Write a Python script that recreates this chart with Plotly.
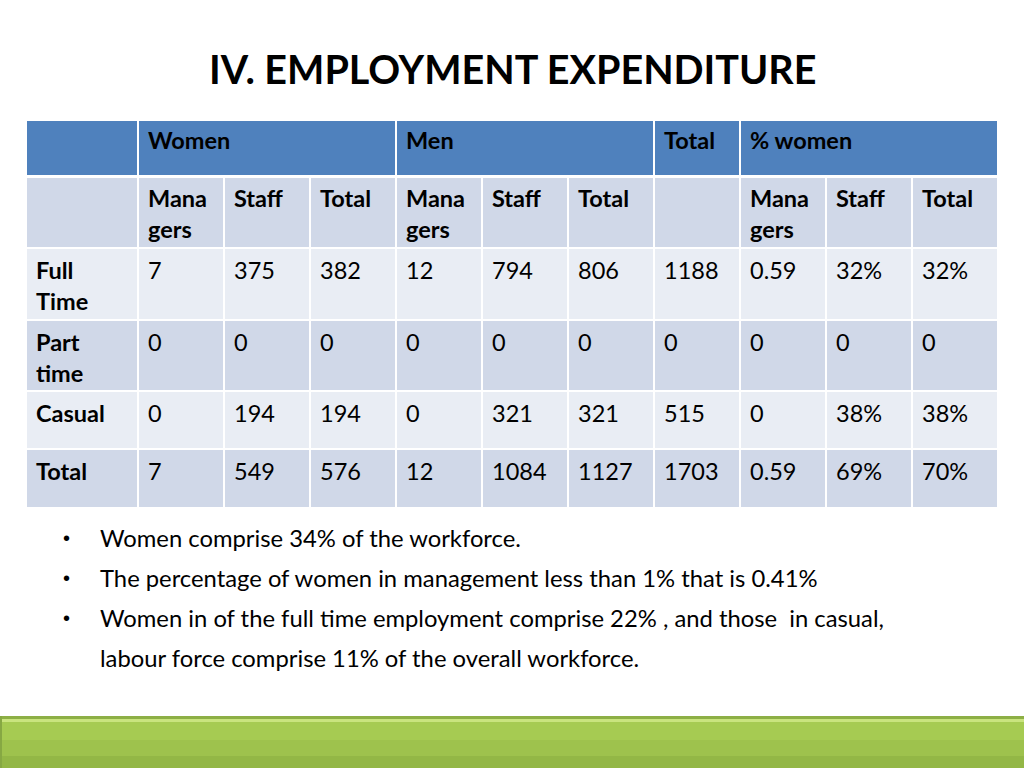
import plotly.graph_objects as go

# contenu du tableau
groupes = ["Women", "Men", "Total", "% women"]
groupe_span = [3, 3, 1, 3]
sous_colonnes = ["Mana<br>gers", "Staff", "Total", "Mana<br>gers", "Staff", "Total", "",
                 "Mana<br>gers", "Staff", "Total"]
lignes = ["Full<br>Time", "Part<br>time", "Casual", "Total"]
full_time = ["7", "375", "382", "12", "794", "806", "1188", "0.59", "32%", "32%"]
part_time = ["0", "0", "0", "0", "0", "0", "0", "0", "0", "0"]
casual = ["0", "194", "194", "0", "321", "321", "515", "0", "38%", "38%"]
total = ["7", "549", "576", "12", "1084", "1127", "1703", "0.59", "69%", "70%"]
valeurs = [full_time, part_time, casual, total]

titre = "IV. EMPLOYMENT EXPENDITURE"
puces = [
    "Women comprise 34% of the workforce.",
    "The percentage of women in management less than 1% that is 0.41%",
    "Women in of the full time employment comprise 22% , and those  in casual,<br>labour force comprise 11% of the overall workforce.",
]

POLICE = "Lato"
TAILLE = 23.5
BLEU = "#4F81BD"
FONCE = "#D0D8E8"
CLAIR = "#E9EDF4"

# géométrie (pixels)
x_bords = [26, 138] + [138 + 86 * i for i in range(1, 11)]
y_bords = [120, 176, 248, 320, 391, 449, 508]

fig = go.Figure()
shapes = []
annots = []


def cellule(x0, x1, y0, y1, couleur, gap_haut=1):
    shapes.append(dict(type="rect", xref="x", yref="y", x0=x0 + 1, x1=x1 - 1,
                       y0=y0 + gap_haut, y1=y1 - 1, fillcolor=couleur, line_width=0, layer="below"))


def texte(x, y, t, gras=False, taille=TAILLE, interligne=30.5):
    for k, morceau in enumerate(t.split("<br>")):
        if not morceau:
            continue
        annots.append(dict(x=x, y=y + k * interligne, xref="x", yref="y", text=morceau,
                           showarrow=False, xanchor="left", yanchor="middle",
                           font=dict(family=POLICE, size=taille, color="black",
                                     weight="bold" if gras else "normal")))


# ligne d'en-tête
cellule(x_bords[0], x_bords[1], y_bords[0], y_bords[1], BLEU)
c = 1
for g, n in zip(groupes, groupe_span):
    cellule(x_bords[c], x_bords[c + n], y_bords[0], y_bords[1], BLEU)
    texte(x_bords[c] + 8, 140, g, gras=True)
    c += n

# sous-colonnes
cellule(x_bords[0], x_bords[1], y_bords[1], y_bords[2], FONCE, gap_haut=2)
for j, s in enumerate(sous_colonnes):
    cellule(x_bords[j + 1], x_bords[j + 2], y_bords[1], y_bords[2], FONCE, gap_haut=2)
    texte(x_bords[j + 1] + 8, 198, s, gras=True)

# lignes de données
y_texte = [270, 342, 413, 471]
couleurs = [CLAIR, FONCE, CLAIR, FONCE]
for i, (nom, vals) in enumerate(zip(lignes, valeurs)):
    y0, y1 = y_bords[i + 2], y_bords[i + 3]
    cellule(x_bords[0], x_bords[1], y0, y1, couleurs[i])
    texte(x_bords[0] + 8, y_texte[i], nom, gras=True)
    for j, v in enumerate(vals):
        cellule(x_bords[j + 1], x_bords[j + 2], y0, y1, couleurs[i])
        texte(x_bords[j + 1] + 8, y_texte[i], v)

# titre
annots.append(dict(x=512, y=68, xref="x", yref="y", text="<b>" + titre + "</b>", showarrow=False,
                   xanchor="center", yanchor="middle",
                   font=dict(family=POLICE, size=39.5, color="black")))

# puces
y_puce = 538
for p in puces:
    annots.append(dict(x=61, y=y_puce, xref="x", yref="y", text="•", showarrow=False,
                       xanchor="left", yanchor="middle", font=dict(family="Arial", size=20, color="black")))
    texte(98, y_puce, p, taille=23.8, interligne=40)
    y_puce += 40 * (p.count("<br>") + 1)

# bandeau vert en bas
bandes = [(716, 719, "#8DAF45"), (719, 722, "#C9E47E"), (722, 740, "#A6CB52"),
          (740, 756, "#9EC24D"), (756, 768, "#93B746")]
for y0, y1, col in bandes:
    shapes.append(dict(type="rect", xref="x", yref="y", x0=0, x1=1024, y0=y0, y1=y1,
                       fillcolor=col, line_width=0, layer="below"))
shapes.append(dict(type="rect", xref="x", yref="y", x0=0, x1=2, y0=716, y1=768,
                   fillcolor="#86A843", line_width=0, layer="below"))

fig.add_trace(go.Scatter(x=[0, 1024], y=[0, 768], mode="markers", marker_opacity=0,
                         hoverinfo="skip", showlegend=False))
fig.update_layout(
    width=1024, height=768, margin=dict(l=0, r=0, t=0, b=0),
    paper_bgcolor="white", plot_bgcolor="white",
    xaxis=dict(range=[0, 1024], visible=False, fixedrange=True),
    yaxis=dict(range=[768, 0], visible=False, fixedrange=True),
    shapes=shapes, annotations=annots, showlegend=False,
)
fig.write_html("out.html", config={"displayModeBar": False},
               post_script="document.body.style.margin='0';document.body.style.overflow='hidden';")
